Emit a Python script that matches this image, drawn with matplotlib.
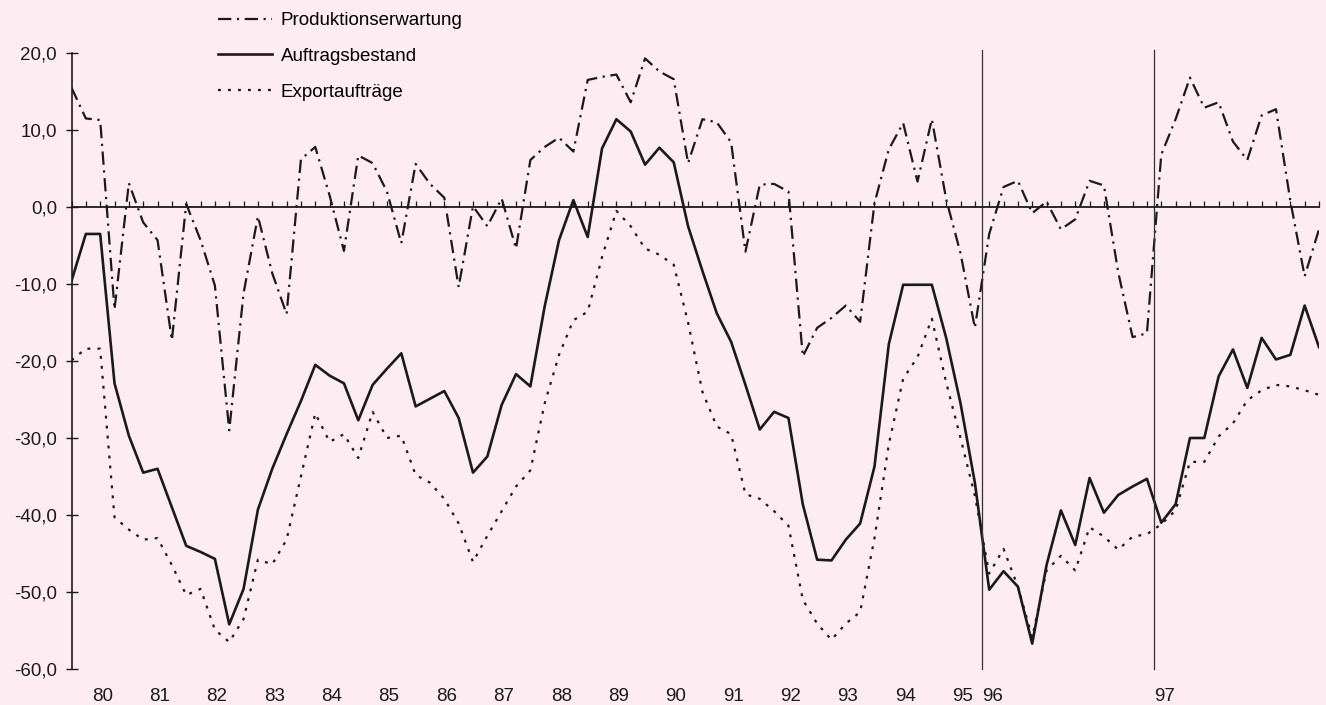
import matplotlib
matplotlib.use("Agg")
import matplotlib.pyplot as plt
import numpy as np
from matplotlib.ticker import FuncFormatter

# 1980Q1 .. 1995Q4 quarterly (64 values), then 1996 and 1997 monthly (24 values)
PRODUKTION = [
    15.5, 11.5, 11.3, -13.3, 3.1, -2.0, -4.3, -17.3,
    0.4, -4.3, -10.2, -29.0, -11.2, -1.2, -8.6, -13.9,
    6.2, 7.8, 1.5, -5.7, 6.7, 5.7, 2.0, -4.7,
    5.6, 3.0, 1.2, -10.4, 0.1, -2.5, 1.1, -5.4,
    6.1, 7.8, 9.0, 7.2, 16.5, 16.9, 17.2, 13.6,
    19.3, 17.6, 16.6, 5.7, 11.4, 11.0, 8.4, -5.8,
    2.9, 3.0, 2.0, -19.4, -15.7, -14.4, -12.8, -14.9,
    0.5, 7.5, 10.9, 3.3, 11.4, 1.0, -6.0, -15.7,
    -3.5, 2.6, 3.4, -0.8, 0.7, -2.9, -1.6, 3.4, 2.8, -8.5, -16.9, -16.4,
    6.8, 11.4, 16.8, 12.9, 13.6, 8.5, 6.1, 11.9, 12.7, 0.8, -9.0, -2.9,
]
AUFTRAG = [
    -9.6, -3.5, -3.5, -22.9, -29.7, -34.5, -34.0, -39.0,
    -44.0, -44.8, -45.7, -54.2, -49.6, -39.3, -34.0, -29.5,
    -25.2, -20.5, -21.9, -22.9, -27.7, -23.1, -21.0, -19.0,
    -25.9, -24.9, -23.9, -27.4, -34.5, -32.4, -25.7, -21.7,
    -23.3, -12.9, -4.3, 0.9, -3.9, 7.6, 11.4, 9.8,
    5.5, 7.7, 5.8, -2.5, -8.3, -13.8, -17.5, -23.1,
    -28.9, -26.6, -27.4, -38.6, -45.8, -45.9, -43.2, -41.1,
    -33.7, -17.8, -10.1, -10.1, -10.1, -17.0, -25.5, -35.8,
    -49.7, -47.3, -49.3, -56.7, -46.5, -39.4, -43.9, -35.2, -39.7, -37.4, -36.3, -35.3,
    -41.0, -38.6, -30.0, -30.0, -22.0, -18.5, -23.5, -17.0, -19.8, -19.2, -12.8, -18.2,
]
EXPORT = [
    -19.9, -18.4, -18.4, -40.3, -41.9, -43.2, -43.0, -46.5,
    -50.4, -49.6, -54.9, -56.5, -53.5, -45.8, -46.4, -43.2,
    -35.0, -26.8, -30.5, -29.5, -32.6, -26.6, -30.0, -29.7,
    -34.8, -35.8, -37.9, -41.1, -46.1, -42.7, -39.5, -36.3,
    -34.2, -25.5, -19.2, -14.7, -13.6, -6.5, -0.5, -2.5,
    -5.4, -6.2, -7.5, -15.0, -24.0, -28.5, -29.5, -37.3,
    -37.9, -39.5, -41.4, -51.0, -54.1, -56.2, -54.1, -52.6,
    -43.0, -30.8, -22.3, -19.5, -14.5, -22.8, -30.0, -37.5,
    -47.6, -44.4, -49.3, -55.9, -47.2, -45.3, -47.2, -41.6, -42.8, -44.5, -42.8, -42.5,
    -41.2, -39.4, -33.1, -33.1, -29.8, -28.1, -25.1, -23.8, -23.1, -23.3, -23.8, -24.4,
]

QUARTER_YEARS = [str(y) for y in range(80, 96)]
MONTH_YEARS = ["96", "97"]
Y_TICKS = list(range(-60, 21, 10))

BG = "#fdecf1"
INK = "#1a1a1a"
W, H = 1326, 705

plt.rcParams["font.family"] = ["Liberation Sans", "DejaVu Sans"]
plt.rcParams["font.size"] = 13.5

x = np.arange(len(AUFTRAG))
n_quarterly = 4 * len(QUARTER_YEARS)
month_starts = [n_quarterly + 12 * k for k in range(len(MONTH_YEARS))]

fig = plt.figure(figsize=(W / 100, H / 100), dpi=100, facecolor=BG)
ax = fig.add_axes([71.5 / W, 1 - 669 / H, (1319 - 71.5) / W, (669 - 53) / H])
ax.set_facecolor(BG)

l_prod, = ax.plot(x, PRODUKTION, color=INK, lw=1.6, linestyle=(0, (6, 2.5, 1, 2.5)),
                  label="Produktionserwartung")
l_auf, = ax.plot(x, AUFTRAG, color=INK, lw=1.9, label="Auftragsbestand")
l_exp, = ax.plot(x, EXPORT, color=INK, lw=1.6, linestyle=(0, (1.3, 3.2)),
                 label="Exportaufträge")

# breaks where the series switches to monthly values
for start in month_starts:
    ax.axvline(start - 0.5, ymax=1.005, clip_on=False, color="#333333", lw=0.9)

ax.set_xlim(0, len(x) - 1)
ax.set_ylim(-60, 20)

for side in ("top", "right"):
    ax.spines[side].set_visible(False)
ax.spines["left"].set_linewidth(1.2)
ax.spines["left"].set_color(INK)
ax.spines["bottom"].set_position(("data", 0))
ax.spines["bottom"].set_linewidth(1.3)
ax.spines["bottom"].set_color(INK)

ax.set_xticks(x)
ax.tick_params(axis="x", direction="in", length=4, width=0.9, color=INK, labelbottom=False)
ax.set_yticks(Y_TICKS)
ax.yaxis.set_major_formatter(FuncFormatter(lambda v, _: f"{v:.1f}".replace(".", ",")))
ax.tick_params(axis="y", direction="inout", length=9, width=1.0, color=INK, pad=6,
               labelsize=13.5, labelcolor=INK)

year_pos = [4 * k + 2.15 for k in range(len(QUARTER_YEARS))] + [s + 0.25 for s in month_starts]
sec = ax.secondary_xaxis("bottom")
sec.set_xticks(year_pos, QUARTER_YEARS + MONTH_YEARS)
sec.tick_params(length=0, pad=14, labelsize=13.5, labelcolor=INK)
sec.spines["bottom"].set_visible(False)

fig.legend(handles=[l_prod, l_auf, l_exp], loc="upper left",
           bbox_to_anchor=(218 / W, 1 - 12 / H), frameon=False, fontsize=13.5,
           handlelength=2.9, handletextpad=0.45, labelspacing=1.0,
           borderpad=0, borderaxespad=0)

fig.savefig("out.png", dpi=100, facecolor=BG)
